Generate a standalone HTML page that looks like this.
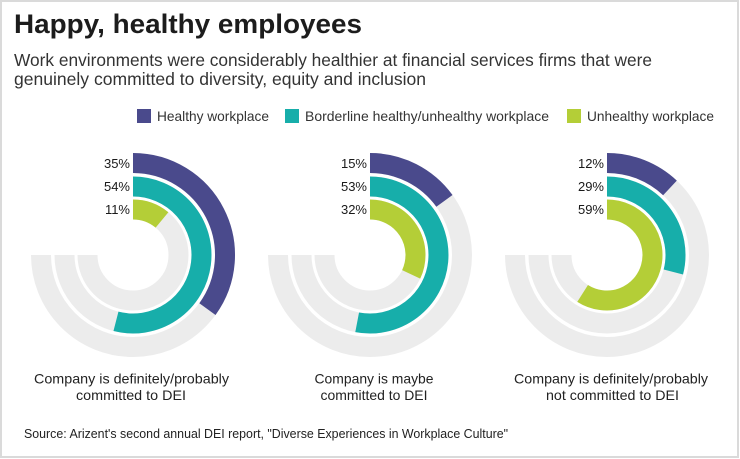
<!DOCTYPE html>
<html>
<head>
<meta charset="utf-8">
<style>
  html, body { margin: 0; padding: 0; background: #fff; }
  svg { display: block; }
  text { font-family: "Liberation Sans", sans-serif; }
</style>
</head>
<body>
<svg width="740" height="459" viewBox="0 0 740 459" xmlns="http://www.w3.org/2000/svg">
  <rect x="0" y="0" width="740" height="459" fill="#fff"/>
  <rect x="1" y="1" width="737" height="456" fill="none" stroke="#dadada" stroke-width="2"/>

  <!-- Title -->
  <text x="14" y="33" font-size="27" font-weight="bold" fill="#1c1c1c" textLength="348" lengthAdjust="spacingAndGlyphs">Happy, healthy employees</text>
  <text x="14" y="66" font-size="17.5" fill="#333" textLength="638" lengthAdjust="spacingAndGlyphs">Work environments were considerably healthier at financial services firms that were</text>
  <text x="14" y="85" font-size="17.5" fill="#333" textLength="412" lengthAdjust="spacingAndGlyphs">genuinely committed to diversity, equity and inclusion</text>

  <!-- Legend -->
  <rect x="137" y="109" width="14" height="14" fill="#4a4a8c"/>
  <text x="157" y="121" font-size="14" fill="#333" textLength="112" lengthAdjust="spacingAndGlyphs">Healthy workplace</text>
  <rect x="285" y="109" width="14" height="14" fill="#17aeaa"/>
  <text x="305" y="121" font-size="14" fill="#333" textLength="244" lengthAdjust="spacingAndGlyphs">Borderline healthy/unhealthy workplace</text>
  <rect x="567" y="109" width="14" height="14" fill="#b4ce37"/>
  <text x="587" y="121" font-size="14" fill="#333" textLength="127" lengthAdjust="spacingAndGlyphs">Unhealthy workplace</text>

  <g fill="none" stroke-width="20" stroke-linecap="butt">
    <!-- Chart 1 (cx=133) -->
    <path d="M133 163 A92 92 0 1 1 41 255" stroke="#ececec"/>
    <path d="M133 186.5 A68.5 68.5 0 1 1 64.5 255" stroke="#ececec"/>
    <path d="M133 209.5 A45.5 45.5 0 1 1 87.5 255" stroke="#ececec"/>
    <path d="M133 163 A92 92 0 0 1 207.43 309.08" stroke="#4a4a8c"/>
    <path d="M133 186.5 A68.5 68.5 0 1 1 115.96 321.35" stroke="#17aeaa"/>
    <path d="M133 209.5 A45.5 45.5 0 0 1 162.00 219.94" stroke="#b4ce37"/>

    <!-- Chart 2 (cx=370) -->
    <path d="M370 163 A92 92 0 1 1 278 255" stroke="#ececec"/>
    <path d="M370 186.5 A68.5 68.5 0 1 1 301.5 255" stroke="#ececec"/>
    <path d="M370 209.5 A45.5 45.5 0 1 1 324.5 255" stroke="#ececec"/>
    <path d="M370 163 A92 92 0 0 1 444.43 200.92" stroke="#4a4a8c"/>
    <path d="M370 186.5 A68.5 68.5 0 1 1 357.16 322.29" stroke="#17aeaa"/>
    <path d="M370 209.5 A45.5 45.5 0 0 1 411.17 274.37" stroke="#b4ce37"/>

    <!-- Chart 3 (cx=607) -->
    <path d="M607 163 A92 92 0 1 1 515 255" stroke="#ececec"/>
    <path d="M607 186.5 A68.5 68.5 0 1 1 538.5 255" stroke="#ececec"/>
    <path d="M607 209.5 A45.5 45.5 0 1 1 561.5 255" stroke="#ececec"/>
    <path d="M607 163 A92 92 0 0 1 669.97 187.93" stroke="#4a4a8c"/>
    <path d="M607 186.5 A68.5 68.5 0 0 1 673.35 272.04" stroke="#17aeaa"/>
    <path d="M607 209.5 A45.5 45.5 0 1 1 582.62 293.42" stroke="#b4ce37"/>
  </g>

  <!-- Percent labels -->
  <g font-size="13" fill="#1a1a1a" text-anchor="end">
    <text x="130" y="168">35%</text>
    <text x="130" y="191">54%</text>
    <text x="130" y="214">11%</text>
    <text x="367" y="168">15%</text>
    <text x="367" y="191">53%</text>
    <text x="367" y="214">32%</text>
    <text x="604" y="168">12%</text>
    <text x="604" y="191">29%</text>
    <text x="604" y="214">59%</text>
  </g>

  <!-- Category labels -->
  <g font-size="14" fill="#222" text-anchor="middle">
    <text x="131.5" y="383.5" textLength="195" lengthAdjust="spacingAndGlyphs">Company is definitely/probably</text>
    <text x="131" y="400" textLength="110" lengthAdjust="spacingAndGlyphs">committed to DEI</text>
    <text x="374" y="383.5" textLength="119" lengthAdjust="spacingAndGlyphs">Company is maybe</text>
    <text x="374" y="400" textLength="107" lengthAdjust="spacingAndGlyphs">committed to DEI</text>
    <text x="611" y="383.5" textLength="194" lengthAdjust="spacingAndGlyphs">Company is definitely/probably</text>
    <text x="612.5" y="400" textLength="133" lengthAdjust="spacingAndGlyphs">not committed to DEI</text>
  </g>

  <!-- Source -->
  <text x="24" y="438" font-size="12.5" fill="#222" textLength="484" lengthAdjust="spacingAndGlyphs">Source: Arizent's second annual DEI report, "Diverse Experiences in Workplace Culture"</text>
</svg>
</body>
</html>
